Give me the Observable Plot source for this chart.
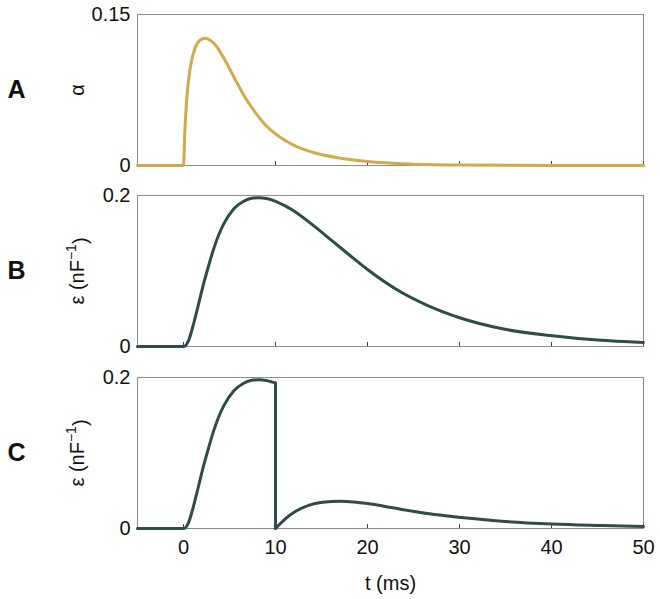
<!DOCTYPE html>
<html>
<head>
<meta charset="utf-8">
<script src="https://cdn.jsdelivr.net/npm/d3@7"></script>
<script src="https://cdn.jsdelivr.net/npm/@observablehq/plot@0.6"></script>
<style>
  html, body { margin: 0; padding: 0; background: white; }
  #chart svg { display: block; }
</style>
</head>
<body>
<div id="chart"></div>
<script>
// ---- data ----
const xTicks = [0, 10, 20, 30, 40, 50];
const panelLetters = ["A", "B", "C"];
const yLabels = ["α", "ε (nF⁻¹)", "ε (nF⁻¹)"];
const yTopTicks = [0.15, 0.2, 0.2];
const xLabel = ["t (ms)"];

// Panel A: alpha kernel
const tA = [-5, 0, 0.15, 0.37, 0.73, 1.27, 1.8, 2.36, 2.9, 3.45, 4.54, 5.6, 6.7, 7.8, 8.9, 10, 11.1, 12.2, 14.4, 16.6, 20, 25, 30, 40, 50];
const alphaA = [0, 0, 0.035, 0.068, 0.097, 0.117, 0.1245, 0.1264, 0.1245, 0.120, 0.104, 0.0858, 0.0676, 0.0528, 0.0403, 0.0314, 0.0245, 0.0192, 0.0122, 0.0079, 0.0039, 0.0013, 0.0004, 0.0001, 0];

// Panel B: epsilon kernel
const tB = [-5, 0, 0.54, 1.09, 1.64, 2.18, 2.73, 3.27, 3.8, 4.36, 5.45, 6.54, 7.3, 8.18, 9, 9.8, 11, 12, 14.2, 16.2, 18, 20, 23.3, 26.5, 30.1, 34.8, 40.1, 45, 50];
const epsB = [0, 0, 0.0076, 0.0297, 0.0563, 0.0828, 0.107, 0.129, 0.147, 0.162, 0.182, 0.1924, 0.196, 0.197, 0.196, 0.1933, 0.1865, 0.1795, 0.1595, 0.1395, 0.1215, 0.102, 0.0745, 0.0545, 0.0377, 0.0231, 0.0142, 0.0085, 0.0053];

// Panel C: epsilon with reset at t = 10
const tC1 = [-5, 0, 0.54, 1.09, 1.64, 2.18, 2.73, 3.27, 3.8, 4.36, 5.45, 6.54, 7.3, 8.18, 9, 10];
const epsC1 = [0, 0, 0.0076, 0.0297, 0.0563, 0.0828, 0.107, 0.129, 0.147, 0.162, 0.182, 0.1924, 0.196, 0.197, 0.196, 0.1926];
const tCdrop = [10, 10];
const epsCdrop = [0.1926, 0];
const tC2 = [10, 11.1, 12.2, 13.6, 15.1, 17.1, 18.5, 20, 21.8, 23.6, 27.3, 30.2, 34.6, 40.1, 45.5, 50];
const epsC2 = [0, 0.0132, 0.0228, 0.0307, 0.0347, 0.0362, 0.0352, 0.033, 0.0295, 0.0255, 0.0185, 0.0145, 0.0096, 0.006, 0.004, 0.0026];

// ---- tables ----
const rows = (ts, vs, seg) => ts.map((t, i) => ({t, v: vs[i], seg}));
const dataA = rows(tA, alphaA, "a");
const dataB = rows(tB, epsB, "b");
const dataC = [...rows(tC1, epsC1, "rise"), ...rows(tCdrop, epsCdrop, "drop"), ...rows(tC2, epsC2, "decay")];

const FONT = "'Liberation Sans', Arial, Helvetica, sans-serif";
const GOLD = "#d2a94d";
const TEAL = "#2e4c4a";

function panel({data, letter, ylabel, ytop, color, height, mt, mb, showX}) {
  const plotH = height - mt - mb;
  const marks = [
    Plot.frame({stroke: "#8c8c8c", strokeWidth: 1}),
    Plot.tickX(xTicks, {x: d => d, stroke: "#444", strokeWidth: 1, insetTop: plotH - 4}),
    Plot.axisY([0, ytop], {tickSize: 0, tickPadding: 7, label: null, tickFormat: d => d === 0 ? "0" : String(d), fontSize: 20, fill: "#111"}),
    Plot.line(data, {x: "t", y: "v", z: "seg", stroke: color, strokeWidth: 3, curve: "monotone-x"}),
    Plot.text([ylabel], {frameAnchor: "left", dx: -60, rotate: -90, textAnchor: "middle", fontSize: 20, fill: "#111"}),
    Plot.text([letter], {frameAnchor: "left", dx: -121, textAnchor: "middle", fontSize: 25, fontWeight: "bold", fill: "#111"})
  ];
  if (showX) {
    marks.push(Plot.axisX(xTicks, {tickSize: 0, tickPadding: 11, label: null, fontSize: 20, fill: "#111"}));
    marks.push(Plot.text(xLabel, {frameAnchor: "bottom", dy: 61, textAnchor: "middle", fontSize: 20, fill: "#111"}));
  }
  const svg = Plot.plot({
    width: 660,
    height,
    marginLeft: 137,
    marginRight: 17,
    marginTop: mt,
    marginBottom: mb,
    x: {domain: [-5, 50], axis: showX ? undefined : null, label: null},
    y: {domain: [0, ytop], label: null},
    style: {fontFamily: FONT, fontSize: "20px", background: "white", color: "#111", overflow: "visible"},
    marks
  });
  // render the superscript "−1" as a raised tspan
  d3.select(svg).selectAll("text").each(function () {
    const el = d3.select(this);
    const s = el.text();
    if (s.includes("⁻¹")) {
      const [pre, post] = s.split("⁻¹");
      el.text("");
      el.append("tspan").text(pre);
      el.append("tspan").attr("dy", "-0.55em").attr("font-size", "14px").text("−1");
      el.append("tspan").attr("dy", "0.55em").text(post);
    }
  });
  return svg;
}

const chart = document.getElementById("chart");
chart.append(panel({data: dataA, letter: panelLetters[0], ylabel: yLabels[0], ytop: yTopTicks[0], color: GOLD, height: 180, mt: 14, mb: 15, showX: false}));
chart.append(panel({data: dataB, letter: panelLetters[1], ylabel: yLabels[1], ytop: yTopTicks[1], color: TEAL, height: 182, mt: 15, mb: 16, showX: false}));
chart.append(panel({data: dataC, letter: panelLetters[2], ylabel: yLabels[2], ytop: yTopTicks[2], color: TEAL, height: 237, mt: 15, mb: 71, showX: true}));
</script>
</body>
</html>
